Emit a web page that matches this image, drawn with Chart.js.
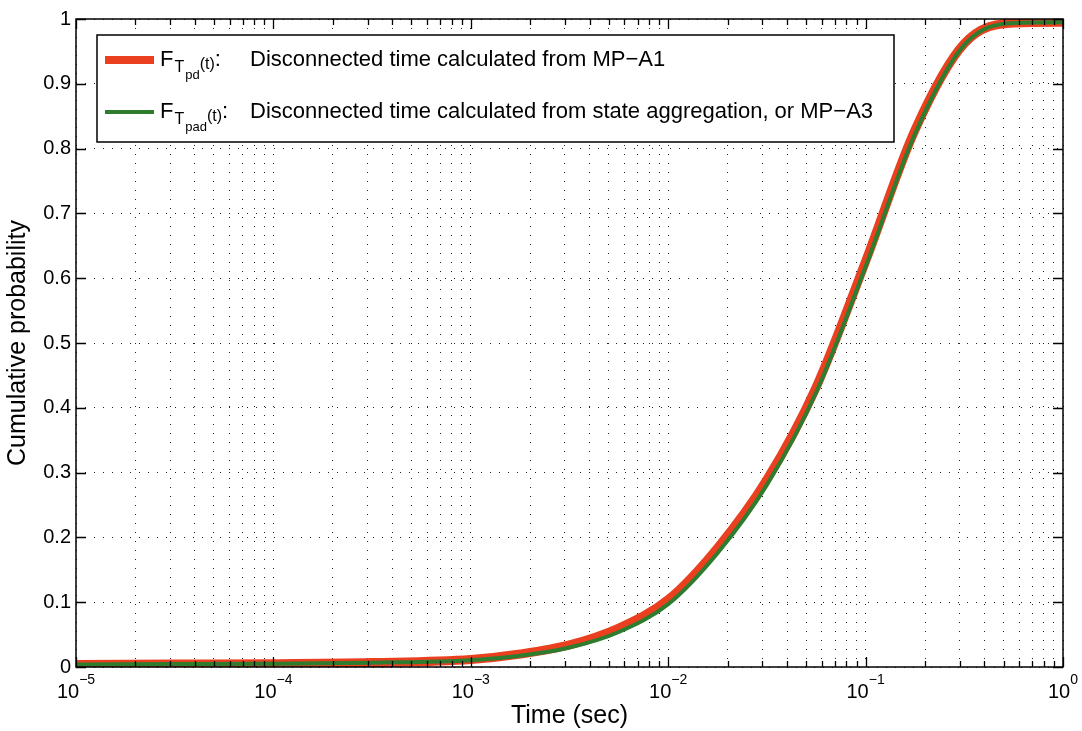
<!DOCTYPE html>
<html><head><meta charset="utf-8">
<script src="https://cdn.jsdelivr.net/npm/chart.js@4/dist/chart.umd.min.js"></script>
<style>html,body{margin:0;padding:0;background:#fff;}#wrap{width:1082px;height:731px;}</style>
</head><body><div id="wrap"><canvas id="c" width="1082" height="731"></canvas></div>
<script>
// ---- data ----
const times = [1e-5, 3.16e-5, 1e-4, 3.16e-4, 1e-3, 1.78e-3, 3.16e-3, 5.62e-3, 1e-2, 1.78e-2, 3.16e-2, 5.62e-2, 0.1, 0.178, 0.316, 0.562, 1];
const probMPA1 = [0.004, 0.0045, 0.005, 0.0068, 0.0115, 0.020, 0.034, 0.060, 0.104, 0.184, 0.289, 0.432, 0.626, 0.829, 0.962, 0.994, 0.995];
const probMPA3 = [0.004, 0.0045, 0.005, 0.0066, 0.0105, 0.0175, 0.030, 0.054, 0.097, 0.176, 0.281, 0.424, 0.618, 0.823, 0.960, 0.994, 0.995];
const yTickValues = [0, 0.1, 0.2, 0.3, 0.4, 0.5, 0.6, 0.7, 0.8, 0.9, 1];
const xDecades = [-5, -4, -3, -2, -1, 0];
const xTickBase = '10';
const xTickExponents = ['\u22125', '\u22124', '\u22123', '\u22122', '\u22121', '0'];
const seriesNames = ['Disconnected time calculated from MP\u2212A1', 'Disconnected time calculated from state aggregation, or MP\u2212A3'];
const legendSubs = ['pd', 'pad'];
const xTitle = 'Time (sec)';
const yTitle = 'Cumulative probability';
const colorA1 = '#ea4020';
const colorA3 = '#2e7d2e';
const FONT = '"Liberation Sans", Arial, Helvetica, sans-serif';

const ptsA1 = times.map((t, i) => ({x: t, y: probMPA1[i]}));
const ptsA3 = times.map((t, i) => ({x: t, y: probMPA3[i]}));

const xTickVals = [];
xDecades.forEach(d => {
  if (d === 0) { xTickVals.push({v: 1, major: true}); return; }
  for (let s = 1; s <= 9; s++) xTickVals.push({v: s * Math.pow(10, d), major: s === 1});
});

const framePlugin = {
  id: 'frame',
  afterDraw(chart) {
    const ctx = chart.ctx, a = chart.chartArea;
    const xs = chart.scales.x, ys = chart.scales.y;
    ctx.save();
    ctx.strokeStyle = '#000'; ctx.lineWidth = 1.5; ctx.setLineDash([]);
    ctx.strokeRect(a.left, a.top, a.right - a.left, a.bottom - a.top);
    ctx.lineWidth = 1.3;
    ctx.beginPath();
    xTickVals.forEach(t => {
      const px = Math.round(xs.getPixelForValue(t.v)) + 0.5;
      const len = t.major ? 10 : 6;
      ctx.moveTo(px, a.bottom); ctx.lineTo(px, a.bottom - len);
      ctx.moveTo(px, a.top); ctx.lineTo(px, a.top + len);
    });
    yTickValues.forEach(v => {
      const py = Math.round(ys.getPixelForValue(v)) + 0.5;
      ctx.moveTo(a.left, py); ctx.lineTo(a.left + 10, py);
      ctx.moveTo(a.right, py); ctx.lineTo(a.right - 10, py);
    });
    ctx.stroke();
    ctx.fillStyle = '#000';
    ctx.textBaseline = 'alphabetic';
    xDecades.forEach((d, i) => {
      const px = xs.getPixelForValue(Math.pow(10, d));
      ctx.font = '20px ' + FONT;
      const wb = ctx.measureText(xTickBase).width;
      ctx.font = '14px ' + FONT;
      const we = ctx.measureText(xTickExponents[i]).width;
      const x0 = px - (wb + we) / 2;
      ctx.font = '20px ' + FONT;
      ctx.textAlign = 'left';
      ctx.fillText(xTickBase, x0, 698);
      ctx.font = '14px ' + FONT;
      ctx.fillText(xTickExponents[i], x0 + wb, 684);
    });
    const L = {x: 97, y: 35, w: 797, h: 107};
    ctx.fillStyle = '#fff';
    ctx.fillRect(L.x, L.y, L.w, L.h);
    ctx.strokeStyle = '#000'; ctx.lineWidth = 1.5;
    ctx.strokeRect(L.x, L.y, L.w, L.h);
    const rows = [{y: 60, color: colorA1, lw: 8}, {y: 112, color: colorA3, lw: 4}];
    rows.forEach((r, i) => {
      ctx.strokeStyle = r.color; ctx.lineWidth = r.lw; ctx.lineCap = 'butt';
      ctx.beginPath(); ctx.moveTo(105, r.y); ctx.lineTo(154, r.y); ctx.stroke();
      ctx.fillStyle = '#000'; ctx.textAlign = 'left';
      const base = r.y + 6;
      let x = 160;
      ctx.font = '22px ' + FONT; ctx.fillText('F', x, base); x += ctx.measureText('F').width + 1;
      ctx.font = '16px ' + FONT; ctx.fillText('T', x, base + 6); x += ctx.measureText('T').width + 1;
      ctx.font = '13px ' + FONT; ctx.fillText(legendSubs[i], x, base + 13); x += ctx.measureText(legendSubs[i]).width;
      ctx.font = '16px ' + FONT; ctx.fillText('(t)', x, base + 3); x += ctx.measureText('(t)').width;
      ctx.font = '22px ' + FONT; ctx.fillText(':', x, base);
      ctx.fillText(seriesNames[i], 250, base);
    });
    ctx.restore();
  }
};

new Chart(document.getElementById('c'), {
  type: 'line',
  data: {
    datasets: [
      {label: 'F_Tpad(t)', data: ptsA3, borderColor: colorA3, borderWidth: 4, pointRadius: 0, cubicInterpolationMode: 'monotone', fill: false},
      {label: 'F_Tpd(t)', data: ptsA1, borderColor: colorA1, borderWidth: 9, pointRadius: 0, cubicInterpolationMode: 'monotone', fill: false}
    ]
  },
  options: {
    responsive: false, animation: false, devicePixelRatio: 1,
    layout: {padding: {top: 19, right: 19, left: 0, bottom: 0}},
    plugins: {legend: {display: false}, tooltip: {enabled: false}, title: {display: false}},
    scales: {
      x: {
        type: 'logarithmic', min: 1e-5, max: 1,
        afterBuildTicks: s => { s.ticks = xTickVals.map(t => ({value: t.v, major: t.major})); },
        afterFit: s => { s.height = 64; },
        ticks: {display: false, autoSkip: false},
        grid: {color: '#222', lineWidth: 1, drawTicks: false},
        border: {display: false, dash: [1, 8]},
        title: {display: true, text: xTitle, color: '#000', font: {family: FONT, size: 25}, padding: {top: 0, bottom: 0}}
      },
      y: {
        min: 0, max: 1,
        afterBuildTicks: s => { s.ticks = yTickValues.map(v => ({value: v})); },
        afterFit: s => { s.width = 76; },
        ticks: {color: '#000', font: {family: FONT, size: 20}, padding: 5, autoSkip: false,
                callback: v => String(Math.round(v * 10) / 10)},
        grid: {color: '#222', lineWidth: 1, drawTicks: false},
        border: {display: false, dash: [1, 8]},
        title: {display: true, text: yTitle, color: '#000', font: {family: FONT, size: 25}, padding: {top: 3, bottom: 0}}
      }
    }
  },
  plugins: [framePlugin]
});
</script></body></html>
